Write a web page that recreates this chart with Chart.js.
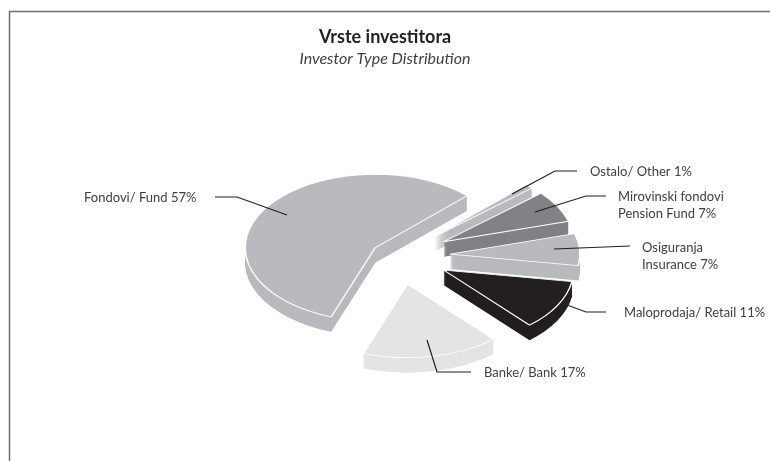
<!DOCTYPE html>
<html><head><meta charset="utf-8">
<style>html,body{margin:0;padding:0;background:#fff}canvas{display:block}</style>
<script src="https://cdn.jsdelivr.net/npm/chart.js@4"></script>
</head><body><canvas id="c" width="770" height="461"></canvas>
<script>
const titleText = 'Vrste investitora';
const subtitleText = 'Investor Type Distribution';
const categories = ['Ostalo/ Other 1%', 'Mirovinski fondovi\nPension Fund 7%', 'Osiguranja\nInsurance 7%', 'Maloprodaja/ Retail 11%', 'Banke/ Bank 17%', 'Fondovi/ Fund 57%'];
const shares = [1, 7, 7, 11, 17, 57];
const colors = ['#b9babd', '#808285', '#b9babd', '#231f20', '#e3e4e6', '#b9babd'];

const squash = 0.565, depth = 15, panX = 13;
const explode = [50, 52, 52, 52, 51, 27];
const drawOrder = [0, 1, 2, 5, 3, 4];
const leaders = [
  {pts:[[512,194],[555,171],[577,171]], text:[590,172]},
  {pts:[[535,212],[586,196],[606,196]], text:[618,197]},
  {pts:[[554,249],[630,246]], text:[642,248]},
  {pts:[[567,305],[586,312],[606,312]], text:[624,313]},
  {pts:[[427,340],[437,372],[471,372]], text:[484,373]},
  {pts:[[287,215],[237,197],[215,197]], text:[84,198]}
];
const LINE_H = 17;

const pie3d = {
  id: 'pie3d',
  beforeDatasetsDraw(chart) {
    const ctx = chart.ctx, arcs = chart.getDatasetMeta(0).data;
    drawOrder.forEach(i => {
      const arc = arcs[i], base = arc.options;
      const mid = (arc.startAngle + arc.endAngle) / 2;
      const ex = Math.cos(mid) * explode[i], ey = Math.sin(mid) * explode[i];
      const plain = {backgroundColor: colors[i], borderColor: colors[i], borderWidth: 0, borderAlign: 'center',
        borderJoinStyle: 'round', borderDash: [], borderDashOffset: 0, offset: 0, spacing: 0, circular: true};
      const place = dy => {
        ctx.translate(panX, dy);
        ctx.translate(arc.x, arc.y);
        ctx.scale(1, squash);
        ctx.translate(-arc.x + ex, -arc.y + ey);
      };
      arc.options = plain;
      for (let d = depth; d > 0; d -= 0.5) {
        ctx.save(); place(d); arc.draw(ctx); ctx.restore();
      }
      arc.options = base;
      ctx.save(); place(0); arc.draw(ctx); ctx.restore();
    });
    return false;
  },
  afterDraw(chart) {
    const ctx = chart.ctx;
    ctx.save();
    ctx.strokeStyle = '#6d6e71'; ctx.lineWidth = 1.5;
    ctx.beginPath(); ctx.moveTo(9.5, 461); ctx.lineTo(9.5, 11.5); ctx.lineTo(770, 11.5); ctx.stroke();
    categories.forEach((label, i) => {
      const l = leaders[i];
      ctx.strokeStyle = '#231f20'; ctx.lineWidth = 1.2; ctx.lineJoin = 'miter';
      ctx.beginPath();
      l.pts.forEach((p, k) => k ? ctx.lineTo(p[0], p[1]) : ctx.moveTo(p[0], p[1]));
      ctx.stroke();
      ctx.fillStyle = '#414042'; ctx.font = '13px "Lato"';
      ctx.textAlign = 'left'; ctx.textBaseline = 'middle';
      label.split('\n').forEach((t, k) => ctx.fillText(t, l.text[0], l.text[1] + k * LINE_H));
    });
    ctx.restore();
  }
};

new Chart(document.getElementById('c'), {
  type: 'pie',
  data: {labels: categories, datasets: [{data: shares, backgroundColor: colors, borderColor: '#ffffff', borderWidth: 1.5, hoverOffset: 0}]},
  options: {
    responsive: false, animation: false, rotation: 45, radius: 130,
    layout: {padding: {top: 0, bottom: 18, left: 0, right: 0}},
    events: [],
    plugins: {
      legend: {display: false}, tooltip: {enabled: false},
      title: {display: true, text: titleText, color: '#231f20', font: {family: 'Lato', size: 18, weight: 'bold'}, padding: {top: 26, bottom: 0}},
      subtitle: {display: true, text: subtitleText, color: '#414042', font: {family: 'Lato', size: 16, style: 'italic', weight: 'normal'}, padding: {top: 2, bottom: 0}}
    }
  },
  plugins: [pie3d]
});
</script></body></html>
